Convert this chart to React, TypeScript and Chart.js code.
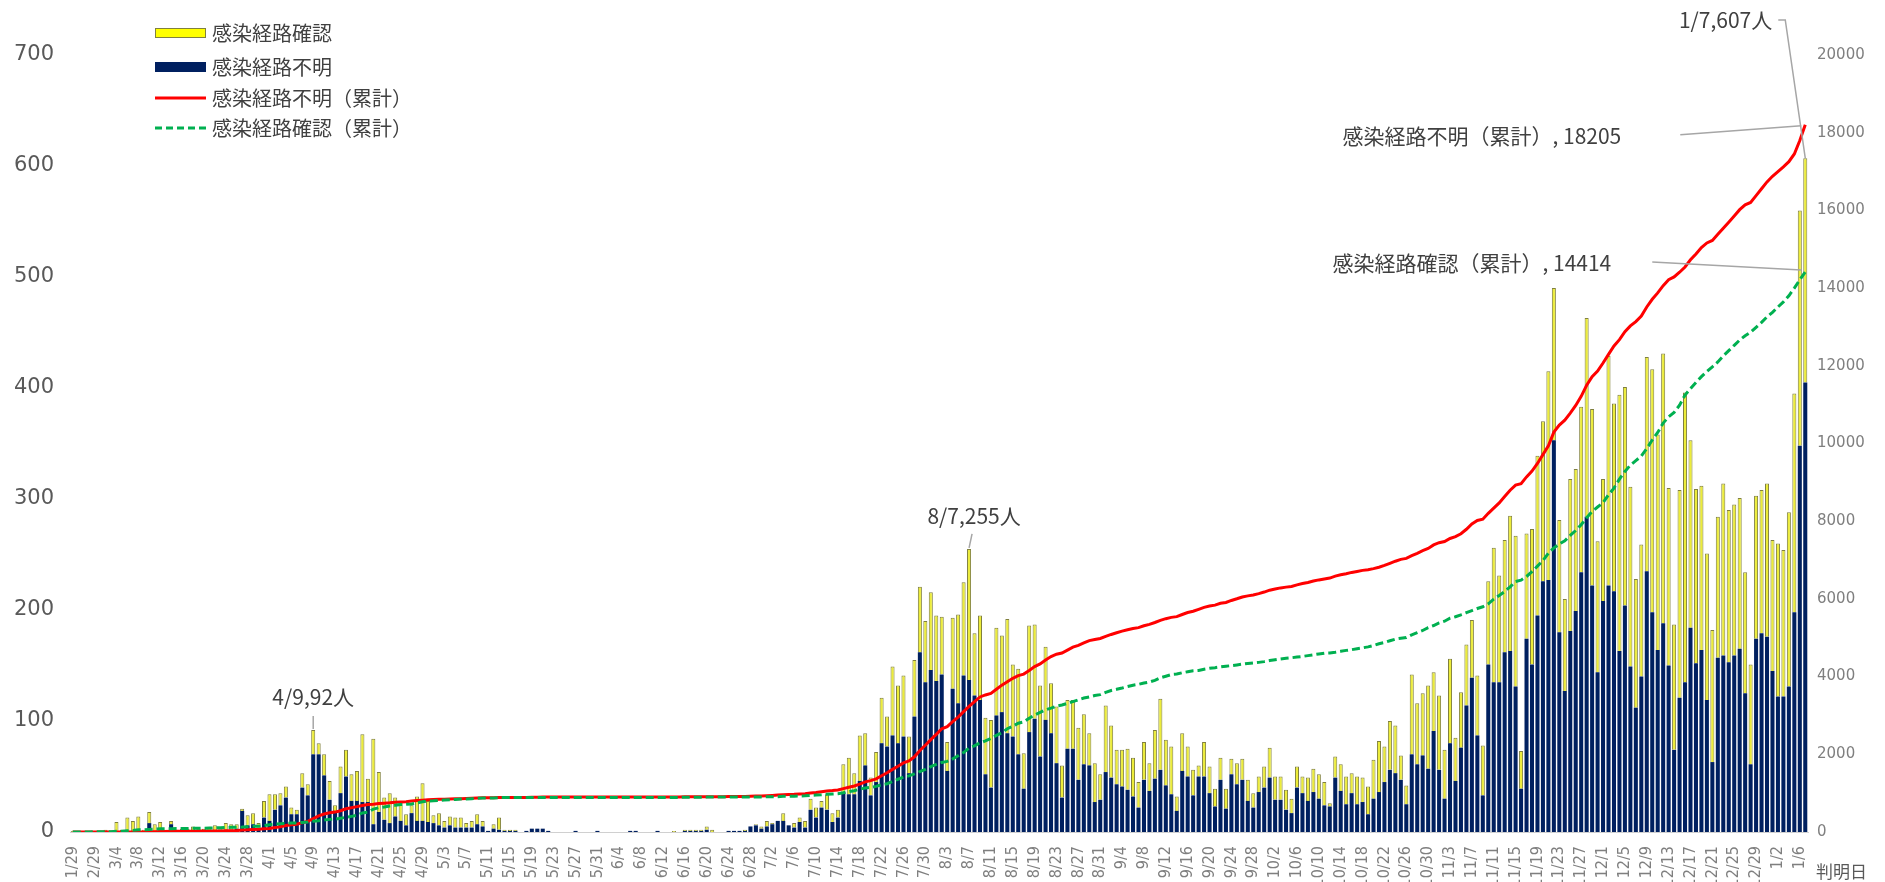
import React, { useEffect, useRef } from "react";
import { Chart, registerables } from "chart.js";

Chart.register(...registerables);

// ---- categories (判明日) ----
const dateLabels = [
  "1/29", "2/26", "2/27", "2/28", "2/29",
  "3/1", "3/2", "3/3", "3/4", "3/5", "3/6", "3/7", "3/8", "3/9", "3/10", "3/11", "3/12", "3/13", "3/14", "3/15", "3/16", "3/17", "3/18", "3/19", "3/20", "3/21", "3/22", "3/23", "3/24", "3/25", "3/26", "3/27", "3/28", "3/29", "3/30", "3/31",
  "4/1", "4/2", "4/3", "4/4", "4/5", "4/6", "4/7", "4/8", "4/9", "4/10", "4/11", "4/12", "4/13", "4/14", "4/15", "4/16", "4/17", "4/18", "4/19", "4/20", "4/21", "4/22", "4/23", "4/24", "4/25", "4/26", "4/27", "4/28", "4/29", "4/30",
  "5/1", "5/2", "5/3", "5/4", "5/5", "5/6", "5/7", "5/8", "5/9", "5/10", "5/11", "5/12", "5/13", "5/14", "5/15", "5/16", "5/17", "5/18", "5/19", "5/20", "5/21", "5/22", "5/23", "5/24", "5/25", "5/26", "5/27", "5/28", "5/29", "5/30", "5/31",
  "6/1", "6/2", "6/3", "6/4", "6/5", "6/6", "6/7", "6/8", "6/9", "6/10", "6/11", "6/12", "6/13", "6/14", "6/15", "6/16", "6/17", "6/18", "6/19", "6/20", "6/21", "6/22", "6/23", "6/24", "6/25", "6/26", "6/27", "6/28", "6/29", "6/30",
  "7/1", "7/2", "7/3", "7/4", "7/5", "7/6", "7/7", "7/8", "7/9", "7/10", "7/11", "7/12", "7/13", "7/14", "7/15", "7/16", "7/17", "7/18", "7/19", "7/20", "7/21", "7/22", "7/23", "7/24", "7/25", "7/26", "7/27", "7/28", "7/29", "7/30", "7/31",
  "8/1", "8/2", "8/3", "8/4", "8/5", "8/6", "8/7", "8/8", "8/9", "8/10", "8/11", "8/12", "8/13", "8/14", "8/15", "8/16", "8/17", "8/18", "8/19", "8/20", "8/21", "8/22", "8/23", "8/24", "8/25", "8/26", "8/27", "8/28", "8/29", "8/30", "8/31",
  "9/1", "9/2", "9/3", "9/4", "9/5", "9/6", "9/7", "9/8", "9/9", "9/10", "9/11", "9/12", "9/13", "9/14", "9/15", "9/16", "9/17", "9/18", "9/19", "9/20", "9/21", "9/22", "9/23", "9/24", "9/25", "9/26", "9/27", "9/28", "9/29", "9/30",
  "10/1", "10/2", "10/3", "10/4", "10/5", "10/6", "10/7", "10/8", "10/9", "10/10", "10/11", "10/12", "10/13", "10/14", "10/15", "10/16", "10/17", "10/18", "10/19", "10/20", "10/21", "10/22", "10/23", "10/24", "10/25", "10/26", "10/27", "10/28", "10/29", "10/30", "10/31",
  "11/1", "11/2", "11/3", "11/4", "11/5", "11/6", "11/7", "11/8", "11/9", "11/10", "11/11", "11/12", "11/13", "11/14", "11/15", "11/16", "11/17", "11/18", "11/19", "11/20", "11/21", "11/22", "11/23", "11/24", "11/25", "11/26", "11/27", "11/28", "11/29", "11/30",
  "12/1", "12/2", "12/3", "12/4", "12/5", "12/6", "12/7", "12/8", "12/9", "12/10", "12/11", "12/12", "12/13", "12/14", "12/15", "12/16", "12/17", "12/18", "12/19", "12/20", "12/21", "12/22", "12/23", "12/24", "12/25", "12/26", "12/27", "12/28", "12/29", "12/30", "12/31",
  "1/1", "1/2", "1/3", "1/4", "1/5", "1/6", "1/7",
];

// ---- 感染経路不明 (daily, navy) ----
const unknownDaily = [
  0, 0, 0, 0, 0, 0, 0, 0, 0, 0,
  0, 0, 0, 1, 8, 0, 1, 1, 7, 1,
  1, 1, 1, 1, 1, 1, 1, 2, 2, 2,
  3, 19, 6, 7, 3, 13, 10, 20, 24, 31,
  16, 16, 40, 33, 70, 70, 51, 29, 19, 35,
  50, 28, 28, 27, 27, 7, 18, 11, 8, 14,
  10, 6, 17, 10, 10, 9, 8, 6, 4, 6,
  4, 4, 4, 4, 7, 5, 1, 3, 2, 1,
  1, 1, 0, 1, 3, 3, 3, 1, 0, 0,
  0, 0, 1, 0, 0, 0, 1, 0, 0, 0,
  0, 0, 1, 1, 0, 0, 0, 1, 0, 0,
  0, 0, 1, 1, 1, 1, 2, 0, 0, 0,
  1, 1, 1, 1, 5, 6, 3, 5, 7, 10,
  10, 6, 4, 9, 4, 20, 13, 22, 20, 9,
  13, 36, 34, 34, 46, 60, 33, 45, 80, 77,
  87, 80, 86, 53, 104, 162, 135, 146, 136, 142,
  55, 129, 116, 141, 137, 123, 119, 52, 40, 105,
  108, 89, 86, 70, 39, 90, 102, 68, 101, 89,
  62, 31, 75, 75, 47, 61, 60, 27, 29, 54,
  49, 43, 41, 38, 32, 22, 47, 37, 48, 56,
  42, 34, 19, 55, 50, 33, 50, 50, 35, 23,
  47, 21, 52, 43, 47, 28, 22, 36, 40, 49,
  29, 29, 20, 17, 40, 35, 28, 36, 30, 24,
  23, 49, 37, 25, 35, 25, 27, 16, 30, 36,
  45, 56, 53, 47, 25, 70, 61, 69, 57, 91,
  56, 30, 80, 46, 76, 114, 139, 87, 33, 151,
  135, 135, 162, 163, 131, 39, 174, 151, 195, 226,
  227, 353, 180, 127, 181, 199, 234, 284, 222, 144,
  208, 222, 217, 163, 204, 149, 112, 140, 235, 198,
  164, 188, 150, 74, 121, 135, 184, 152, 164, 119,
  63, 157, 159, 153, 159, 165, 125, 61, 174, 179,
  176, 145, 122, 122, 131, 198, 348, 405,
];

// ---- 感染経路確認 (daily, yellow) ----
const knownDaily = [
  1, 1, 0, 1, 1, 1, 2, 1, 9, 2,
  13, 10, 14, 1, 10, 7, 8, 1, 3, 1,
  2, 2, 4, 2, 2, 3, 5, 2, 6, 5,
  4, 2, 9, 10, 5, 15, 24, 14, 11, 10,
  6, 4, 13, 10, 22, 10, 19, 17, 5, 24,
  24, 24, 27, 61, 21, 77, 36, 20, 27, 17,
  18, 10, 7, 22, 34, 19, 7, 11, 6, 8,
  9, 9, 4, 6, 9, 5, 0, 4, 11, 1,
  1, 1, 0, 0, 0, 0, 0, 0, 0, 0,
  0, 0, 0, 0, 0, 0, 0, 0, 0, 0,
  0, 0, 0, 0, 0, 0, 0, 0, 0, 0,
  1, 0, 1, 1, 1, 1, 3, 2, 0, 0,
  0, 0, 0, 1, 0, 1, 2, 5, 1, 0,
  7, 0, 4, 4, 6, 10, 9, 6, 14, 8,
  7, 25, 33, 19, 41, 29, 16, 27, 41, 27,
  62, 52, 55, 33, 51, 59, 55, 70, 59, 52,
  26, 64, 80, 84, 118, 56, 76, 51, 61, 79,
  69, 103, 65, 77, 32, 96, 85, 64, 66, 45,
  51, 29, 44, 44, 47, 45, 29, 35, 23, 60,
  47, 31, 33, 37, 35, 23, 34, 25, 44, 64,
  41, 43, 13, 34, 27, 23, 10, 31, 24, 16,
  20, 18, 14, 19, 19, 19, 13, 14, 19, 27,
  21, 21, 18, 13, 19, 15, 21, 21, 22, 21,
  3, 19, 24, 25, 18, 25, 22, 25, 35, 46,
  32, 44, 43, 22, 17, 72, 55, 56, 75, 53,
  67, 44, 76, 39, 50, 55, 52, 54, 45, 75,
  121, 96, 101, 122, 136, 34, 95, 122, 144, 144,
  188, 137, 101, 83, 137, 128, 149, 179, 159, 118,
  110, 207, 169, 231, 197, 162, 116, 119, 193, 219,
  194, 243, 160, 113, 187, 261, 169, 157, 148, 132,
  119, 127, 155, 137, 136, 136, 109, 90, 129, 129,
  138, 118, 138, 132, 157, 197, 212, 202,
];

// ---- 感染経路不明（累計） (red line, right axis) ----
const unknownCumulative = [
  0, 0, 0, 0, 0, 0, 0, 0, 0, 0,
  0, 0, 0, 1, 9, 9, 10, 11, 18, 19,
  20, 21, 22, 23, 24, 25, 26, 28, 30, 32,
  35, 54, 60, 67, 70, 83, 93, 113, 137, 168,
  184, 200, 240, 273, 343, 413, 464, 493, 512, 547,
  597, 625, 653, 680, 707, 714, 732, 743, 751, 765,
  775, 781, 798, 808, 818, 827, 835, 841, 845, 851,
  855, 859, 863, 867, 874, 879, 880, 883, 885, 886,
  887, 888, 888, 889, 892, 895, 898, 899, 899, 899,
  899, 899, 900, 900, 900, 900, 901, 901, 901, 901,
  901, 901, 902, 903, 903, 903, 903, 904, 904, 904,
  904, 904, 905, 906, 907, 908, 910, 910, 910, 910,
  911, 912, 913, 914, 919, 925, 928, 933, 940, 950,
  960, 966, 970, 979, 983, 1003, 1016, 1038, 1058, 1067,
  1080, 1116, 1150, 1184, 1230, 1290, 1323, 1368, 1448, 1525,
  1612, 1692, 1778, 1831, 1935, 2097, 2232, 2378, 2514, 2656,
  2711, 2840, 2956, 3097, 3234, 3357, 3476, 3528, 3568, 3673,
  3781, 3870, 3956, 4026, 4065, 4155, 4257, 4325, 4426, 4515,
  4577, 4608, 4683, 4758, 4805, 4866, 4926, 4953, 4982, 5036,
  5085, 5128, 5169, 5207, 5239, 5261, 5308, 5345, 5393, 5449,
  5491, 5525, 5544, 5599, 5649, 5682, 5732, 5782, 5817, 5840,
  5887, 5908, 5960, 6003, 6050, 6078, 6100, 6136, 6176, 6225,
  6254, 6283, 6303, 6320, 6360, 6395, 6423, 6459, 6489, 6513,
  6536, 6585, 6622, 6647, 6682, 6707, 6734, 6750, 6780, 6816,
  6861, 6917, 6970, 7017, 7042, 7112, 7173, 7242, 7299, 7390,
  7446, 7476, 7556, 7602, 7678, 7792, 7931, 8018, 8051, 8202,
  8337, 8472, 8634, 8797, 8928, 8967, 9141, 9292, 9487, 9713,
  9940, 10293, 10473, 10600, 10781, 10980, 11214, 11498, 11720, 11864,
  12072, 12294, 12511, 12674, 12878, 13027, 13139, 13279, 13514, 13712,
  13876, 14064, 14214, 14288, 14409, 14544, 14728, 14880, 15044, 15163,
  15226, 15383, 15542, 15695, 15854, 16019, 16144, 16205, 16379, 16558,
  16734, 16879, 17001, 17123, 17254, 17452, 17800, 18205,
];

// ---- 感染経路確認（累計） (green dashed line, right axis) ----
const knownCumulative = [
  1, 2, 2, 3, 4, 5, 7, 8, 17, 19,
  32, 42, 56, 57, 67, 74, 82, 83, 86, 87,
  89, 91, 95, 97, 99, 102, 107, 109, 115, 120,
  124, 126, 135, 145, 150, 165, 189, 203, 214, 224,
  230, 234, 247, 257, 279, 289, 308, 325, 330, 354,
  378, 402, 429, 490, 511, 588, 624, 644, 671, 688,
  706, 716, 723, 745, 779, 798, 805, 816, 822, 830,
  839, 848, 852, 858, 867, 872, 872, 876, 887, 888,
  889, 890, 890, 890, 890, 890, 890, 890, 890, 890,
  890, 890, 890, 890, 890, 890, 890, 890, 890, 890,
  890, 890, 890, 890, 890, 890, 890, 890, 890, 890,
  891, 891, 892, 893, 894, 895, 898, 900, 900, 900,
  900, 900, 900, 901, 901, 902, 904, 909, 910, 910,
  917, 917, 921, 925, 931, 941, 950, 956, 970, 978,
  985, 1010, 1043, 1062, 1103, 1132, 1148, 1175, 1216, 1243,
  1305, 1357, 1412, 1445, 1496, 1555, 1610, 1680, 1739, 1791,
  1817, 1881, 1961, 2045, 2163, 2219, 2295, 2346, 2407, 2486,
  2555, 2658, 2723, 2800, 2832, 2928, 3013, 3077, 3143, 3188,
  3239, 3268, 3312, 3356, 3403, 3448, 3477, 3512, 3535, 3595,
  3642, 3673, 3706, 3743, 3778, 3801, 3835, 3860, 3904, 3968,
  4009, 4052, 4065, 4099, 4126, 4149, 4159, 4190, 4214, 4230,
  4250, 4268, 4282, 4301, 4320, 4339, 4352, 4366, 4385, 4412,
  4433, 4454, 4472, 4485, 4504, 4519, 4540, 4561, 4583, 4604,
  4607, 4626, 4650, 4675, 4693, 4718, 4740, 4765, 4800, 4846,
  4878, 4922, 4965, 4987, 5004, 5076, 5131, 5187, 5262, 5315,
  5382, 5426, 5502, 5541, 5591, 5646, 5698, 5752, 5797, 5872,
  5993, 6089, 6190, 6312, 6448, 6482, 6577, 6699, 6843, 6987,
  7175, 7312, 7413, 7496, 7633, 7761, 7910, 8089, 8248, 8366,
  8476, 8683, 8852, 9083, 9280, 9442, 9558, 9677, 9870, 10089,
  10283, 10526, 10686, 10799, 10986, 11247, 11416, 11573, 11721, 11853,
  11972, 12099, 12254, 12391, 12527, 12663, 12772, 12862, 12991, 13120,
  13258, 13376, 13514, 13646, 13803, 14000, 14212, 14414,
];

// ---- axes ----
const leftAxisMax = 700;
const leftAxisStep = 100;
const rightAxisMax = 20000;
const rightAxisStep = 2000;
const xAxisTitle = "判明日";

// ---- labels / legend ----
const seriesNames = {
  known: "感染経路確認",
  unknown: "感染経路不明",
  unknownCum: "感染経路不明（累計）",
  knownCum: "感染経路確認（累計）",
};
const calloutDates = ["4/9", "8/7", "1/7"];

const COLORS = {
  yellow: "#ECEC3A",
  yellowEdge: "#80803E",
  navy: "#002060",
  red: "#FF0000",
  green: "#00B050",
  text: "#404040",
  axisText: "#595959",
  leader: "#A6A6A6",
};

const CJK = '"Noto Sans CJK JP", "Noto Sans", sans-serif';

const overlayPlugin = {
  id: "overlay",
  afterDraw(chart: any) {
    const ctx = chart.ctx;
    const a = chart.chartArea;
    const xs = chart.scales.x;
    const ys = chart.scales.y;
    const yr = chart.scales.y1;
    ctx.save();

    // ---- legend ----
    const legend = [
      { text: seriesNames.known, kind: "box", fill: "#FFFF00", stroke: COLORS.yellowEdge, y: 33 },
      { text: seriesNames.unknown, kind: "box", fill: COLORS.navy, stroke: COLORS.navy, y: 67 },
      { text: seriesNames.unknownCum, kind: "line", color: COLORS.red, dash: [], y: 98 },
      { text: seriesNames.knownCum, kind: "line", color: COLORS.green, dash: [7, 4], y: 128 },
    ];
    const lx = 155;
    const lw = 51;
    legend.forEach((it: any) => {
      if (it.kind === "box") {
        ctx.fillStyle = it.fill;
        ctx.fillRect(lx, it.y - 5, lw, 10);
        ctx.strokeStyle = it.stroke;
        ctx.lineWidth = 1;
        ctx.strokeRect(lx + 0.5, it.y - 4.5, lw - 1, 9);
      } else {
        ctx.strokeStyle = it.color;
        ctx.lineWidth = 3;
        ctx.setLineDash(it.dash);
        ctx.beginPath();
        ctx.moveTo(lx, it.y);
        ctx.lineTo(lx + lw, it.y);
        ctx.stroke();
        ctx.setLineDash([]);
      }
      ctx.fillStyle = COLORS.text;
      ctx.font = `20px ${CJK}`;
      ctx.textAlign = "left";
      ctx.textBaseline = "middle";
      ctx.fillText(it.text, lx + 57, it.y);
    });

    const line = (pts: number[][]) => {
      ctx.strokeStyle = COLORS.leader;
      ctx.lineWidth = 1.5;
      ctx.beginPath();
      ctx.moveTo(pts[0][0], pts[0][1]);
      for (let k = 1; k < pts.length; k++) ctx.lineTo(pts[k][0], pts[k][1]);
      ctx.stroke();
    };
    ctx.font = `21px ${CJK}`;
    ctx.fillStyle = COLORS.text;
    ctx.textBaseline = "middle";

    // ---- daily callouts ----
    const [d1, d2, d3] = calloutDates.map((d) => dateLabels.indexOf(d));
    const total = (i: number) => unknownDaily[i] + knownDaily[i];

    // 4/9
    {
      const bx = xs.getPixelForValue(d1);
      const by = ys.getPixelForValue(total(d1));
      line([[bx, by - 1], [bx, by - 14]]);
      ctx.textAlign = "center";
      ctx.fillText(`${dateLabels[d1]},${total(d1)}人`, bx, by - 33);
    }
    // 8/7
    {
      const bx = xs.getPixelForValue(d2);
      const by = ys.getPixelForValue(total(d2));
      line([[bx, by - 1], [bx + 3, by - 15]]);
      ctx.textAlign = "center";
      ctx.fillText(`${dateLabels[d2]},${total(d2)}人`, bx + 5, by - 33);
    }
    // 1/7
    {
      const bx = xs.getPixelForValue(d3);
      const by = ys.getPixelForValue(total(d3));
      const ty = a.top - 35;
      line([[bx - 27, ty], [bx - 20, ty], [bx, by]]);
      ctx.textAlign = "right";
      ctx.fillText(`${dateLabels[d3]},${total(d3)}人`, bx - 33, ty);
    }

    // ---- cumulative end labels ----
    const last = dateLabels.length - 1;
    {
      const ex = xs.getPixelForValue(last);
      const ey = yr.getPixelForValue(unknownCumulative[last]);
      line([[ex - 125, ey + 10], [ex - 4, ey + 1]]);
      ctx.textAlign = "right";
      ctx.fillText(`${seriesNames.unknownCum}, ${unknownCumulative[last]}`, ex - 184, ey + 11);
    }
    {
      const ex = xs.getPixelForValue(last);
      const ey = yr.getPixelForValue(knownCumulative[last]);
      line([[ex - 153, ey - 10], [ex - 4, ey - 2]]);
      ctx.textAlign = "right";
      ctx.fillText(`${seriesNames.knownCum}, ${knownCumulative[last]}`, ex - 194, ey - 9);
    }

    // ---- x axis title ----
    ctx.font = `17px ${CJK}`;
    ctx.fillStyle = COLORS.axisText;
    ctx.textAlign = "left";
    ctx.fillText(xAxisTitle, a.right + 8, a.bottom + 40);

    ctx.restore();
  },
};

export default function App() {
  const ref = useRef<HTMLCanvasElement | null>(null);

  useEffect(() => {
    if (!ref.current) return;
    const chart = new Chart(ref.current, {
      type: "bar",
      data: {
        labels: dateLabels,
        datasets: [
          {
            type: "bar",
            label: seriesNames.unknown,
            data: unknownDaily,
            backgroundColor: COLORS.navy,
            borderWidth: 0,
            yAxisID: "y",
            stack: "daily",
            order: 2,
            barPercentage: 0.74,
            categoryPercentage: 1,
          },
          {
            type: "bar",
            label: seriesNames.known,
            data: knownDaily,
            backgroundColor: COLORS.yellow,
            borderColor: COLORS.yellowEdge,
            borderWidth: 1,
            yAxisID: "y",
            stack: "daily",
            order: 2,
            barPercentage: 0.74,
            categoryPercentage: 1,
          },
          {
            type: "line",
            label: seriesNames.unknownCum,
            data: unknownCumulative,
            borderColor: COLORS.red,
            backgroundColor: COLORS.red,
            borderWidth: 3,
            pointRadius: 0,
            tension: 0,
            fill: false,
            yAxisID: "y1",
            order: 1,
          },
          {
            type: "line",
            label: seriesNames.knownCum,
            data: knownCumulative,
            borderColor: COLORS.green,
            backgroundColor: COLORS.green,
            borderWidth: 3,
            borderDash: [8, 4],
            pointRadius: 0,
            tension: 0,
            fill: false,
            yAxisID: "y1",
            order: 0,
          },
        ] as any,
      },
      options: {
        responsive: false,
        animation: false,
        devicePixelRatio: 1,
        layout: { padding: { top: 55, left: 0, right: 0, bottom: 0 } },
        plugins: {
          legend: { display: false },
          tooltip: { enabled: false },
        },
        scales: {
          x: {
            stacked: true,
            offset: true,
            grid: { display: false, drawTicks: false },
            border: { display: true, color: "#D0D0D0", width: 1 },
            ticks: {
              autoSkip: false,
              minRotation: 90,
              maxRotation: 90,
              padding: 14,
              color: "#7F7F7F",
              font: { family: '"DejaVu Sans Condensed", "DejaVu Sans", sans-serif', size: 16 },
              callback: (_v: any, i: number) => (i % 4 === 0 ? dateLabels[i] : ""),
            },
            afterFit: (s: any) => {
              s.height = 50;
            },
          },
          y: {
            stacked: true,
            position: "left",
            min: 0,
            max: leftAxisMax,
            grid: { display: false, drawTicks: false },
            border: { display: false },
            ticks: {
              stepSize: leftAxisStep,
              padding: 16,
              color: COLORS.axisText,
              font: { family: '"DejaVu Sans", sans-serif', size: 21 },
            },
            afterFit: (s: any) => {
              s.width = 70;
            },
          },
          y1: {
            position: "right",
            min: 0,
            max: rightAxisMax,
            grid: { display: false, drawTicks: false },
            border: { display: false },
            ticks: {
              stepSize: rightAxisStep,
              padding: 9,
              color: "#7F7F7F",
              font: { family: '"DejaVu Sans", sans-serif', size: 15 },
              callback: (v: any) => String(v),
            },
            afterFit: (s: any) => {
              s.width = 77;
            },
          },
        },
      } as any,
      plugins: [overlayPlugin],
    });
    return () => chart.destroy();
  }, []);

  return (
    <div style={{ position: "fixed", left: 0, top: 0, width: 1885, height: 882, background: "#fff" }}>
      <canvas ref={ref} width={1885} height={882} style={{ width: 1885, height: 882, display: "block" }} />
    </div>
  );
}
